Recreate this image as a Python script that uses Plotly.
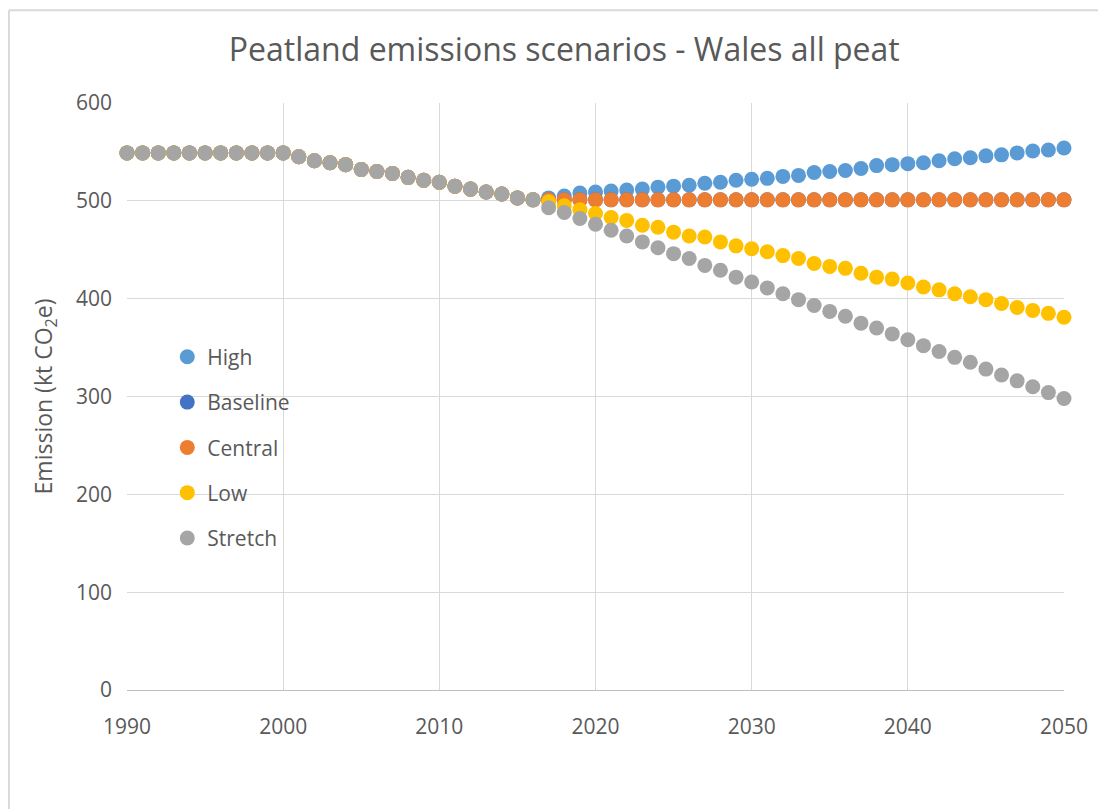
import plotly.graph_objects as go

years = list(range(1990, 2051))

common = [549, 549, 549, 549, 549, 549, 549, 549, 549, 549,
          549, 545, 541, 539, 537, 532, 530, 528, 524, 521,
          519, 515, 512, 509, 507, 503, 501]  # 1990-2016

high_future = [503, 505, 508, 509, 510, 511, 512, 514, 515, 516, 518, 519, 521, 522, 523, 525, 526,
               529, 530, 531, 533, 536, 537, 538, 539, 541, 543, 544, 546, 547, 549, 551, 552, 554]
baseline_future = [501] * 34
central_future = [501] * 34
low_future = [499, 495, 491, 487, 483, 480, 475, 473, 468, 464, 463, 458, 454, 451, 448, 444, 441,
              436, 433, 431, 426, 422, 420, 416, 412, 409, 405, 402, 399, 395, 391, 388, 385, 381]
stretch_future = [493, 488, 482, 476, 470, 464, 458, 452, 446, 441, 434, 429, 422, 417, 411, 405, 399,
                  393, 387, 382, 375, 370, 364, 358, 352, 346, 340, 335, 328, 322, 316, 310, 304, 298]

series_names = ["High", "Baseline", "Central", "Low", "Stretch"]
series_values = {
    "High": common + high_future,
    "Baseline": common + baseline_future,
    "Central": common + central_future,
    "Low": common + low_future,
    "Stretch": common + stretch_future,
}
series_colors = {
    "High": "#5B9BD5",
    "Baseline": "#4472C4",
    "Central": "#ED7D31",
    "Low": "#FFC000",
    "Stretch": "#A5A5A5",
}

x_ticks = [1990, 2000, 2010, 2020, 2030, 2040, 2050]
y_ticks = [0, 100, 200, 300, 400, 500, 600]

fig = go.Figure()
for name in series_names:
    fig.add_trace(go.Scatter(
        x=years, y=series_values[name], name=name, mode="markers",
        legendgroup=name,
        marker=dict(size=15, color=series_colors[name], line=dict(width=0)),
        cliponaxis=False,
    ))

FONT = "Open Sans"
TXT = "#595959"
GRID = "#D9D9D9"

fig.update_layout(
    width=1106, height=809,
    paper_bgcolor="white", plot_bgcolor="white",
    margin=dict(l=119, r=50, t=95, b=127),
    font=dict(family=FONT, color=TXT),
    title=dict(text="Peatland emissions scenarios - Wales all peat",
               x=0.503, xref="container", xanchor="center", y=0.948, yref="container",
               yanchor="middle",
               font=dict(family=FONT, size=32, color=TXT)),
    showlegend=True,
    legend=dict(x=0.043, y=0.602, xanchor="left", yanchor="top",
                bgcolor="rgba(0,0,0,0)", tracegroupgap=15,
                font=dict(family=FONT, size=21, color=TXT),
                itemwidth=30),
    xaxis=dict(range=[1990, 2050], tickvals=x_ticks, showgrid=True, gridcolor=GRID, gridwidth=1,
               showline=True, linecolor="#BFBFBF", linewidth=1, zeroline=False,
               ticks="", ticklabelstandoff=18,
               tickfont=dict(family=FONT, size=21, color=TXT)),
    yaxis=dict(range=[0, 600], tickvals=y_ticks, showgrid=True, gridcolor=GRID, gridwidth=1,
               showline=False, zeroline=False, ticks="", ticklabelstandoff=14,
               tickfont=dict(family=FONT, size=21, color=TXT),
               title=dict(text="Emission (kt CO<sub>2</sub>e)", standoff=16,
                          font=dict(family=FONT, size=23, color=TXT))),
    shapes=[
        dict(type="line", xref="paper", yref="paper", x0=-0.126, x1=-0.126, y0=-0.3, y1=1.158,
             line=dict(color=GRID, width=2)),
        dict(type="line", xref="paper", yref="paper", x0=-0.126, x1=1.1, y0=1.158, y1=1.158,
             line=dict(color=GRID, width=2)),
    ],
)

fig.write_html("out.html")
